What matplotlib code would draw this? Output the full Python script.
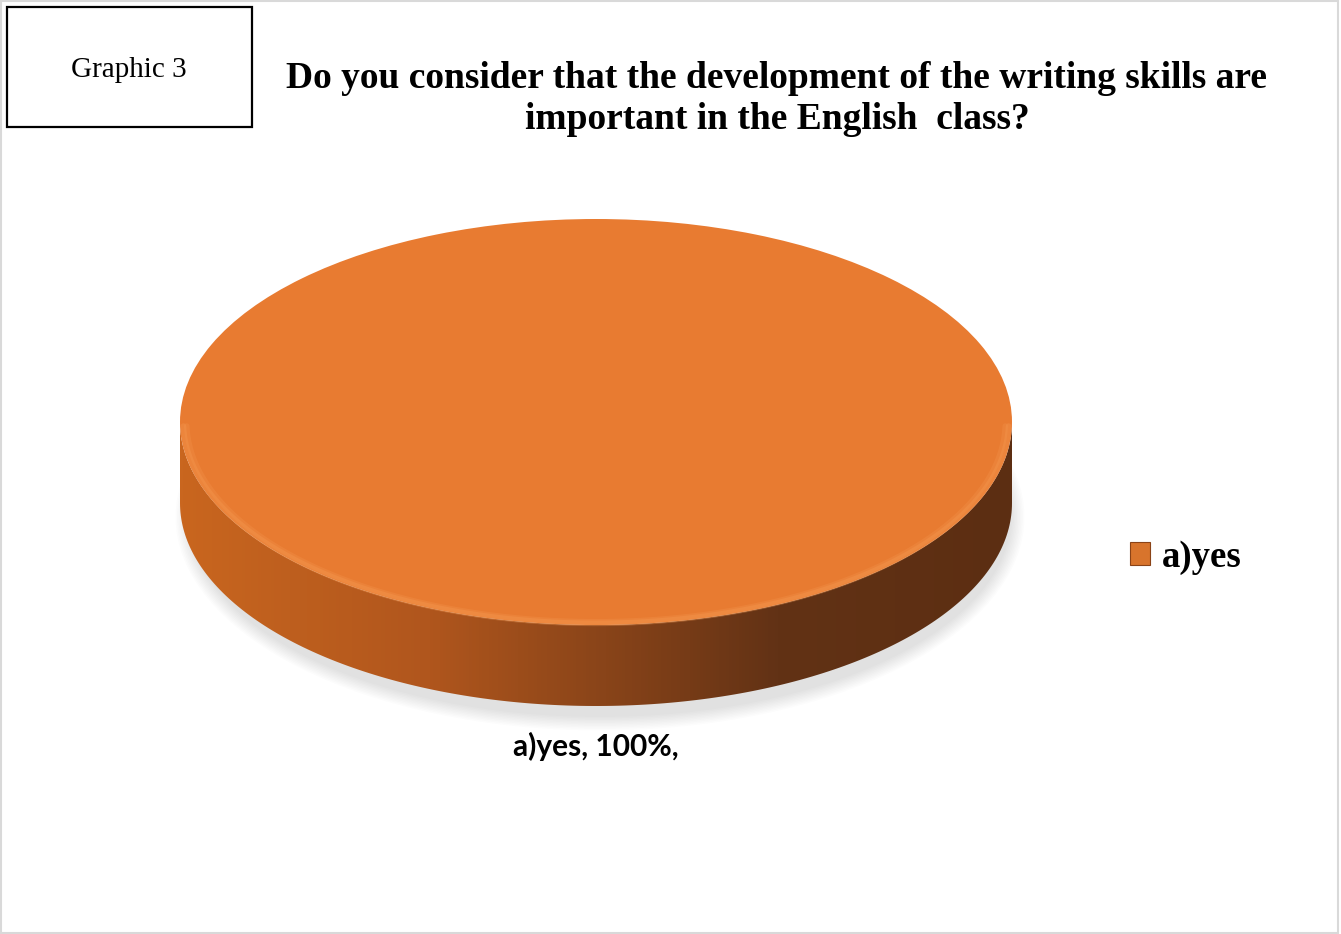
import numpy as np
import matplotlib
matplotlib.use('Agg')
import matplotlib.pyplot as plt
from matplotlib.patches import Rectangle, Ellipse, Polygon
from matplotlib.transforms import Affine2D
from matplotlib.colors import LinearSegmentedColormap

# data
labels = ['a)yes']
values = [100]
box_text = 'Graphic 3'
title = 'Do you consider that the development of the writing skills are\nimportant in the English  class?'

top_color = '#E87B31'
W, H = 1341, 934

fig = plt.figure(figsize=(W / 100, H / 100), dpi=100)
ax = fig.add_axes([0, 0, 1, 1])

# pie geometry (pixels)
cx, cy, rx, ry, depth = 596, 422, 416, 203, 81

# shadow under the disc
for i in range(10):
    ax.add_patch(Ellipse((cx + 4, cy + depth + 14), 2 * rx - 10 + i * 3, 2 * ry - 6 + i * 3,
                         facecolor='#000000', edgecolor='none', alpha=0.012, zorder=1))

# side of the cylinder with a horizontal gradient
t = np.linspace(0, np.pi, 200)
top_arc = np.column_stack([cx + rx * np.cos(t), cy + ry * np.sin(t)])
bot_arc = np.column_stack([cx + rx * np.cos(t[::-1]), cy + depth + ry * np.sin(t[::-1])])
side = Polygon(np.vstack([top_arc, bot_arc]), closed=True, facecolor='none', edgecolor='none')
ax.add_patch(side)
cmap = LinearSegmentedColormap.from_list('side', [(0, '#C9661F'), (0.3, '#B0561D'),
                                                   (0.72, '#623215'), (1, '#5C2E12')])
grad = np.linspace(0, 1, 256).reshape(1, -1)
im = ax.imshow(grad, cmap=cmap, extent=(cx - rx, cx + rx, cy + ry + depth, cy - ry),
               aspect='auto', zorder=2)
im.set_clip_path(side)

# top face
wedges, _ = ax.pie(values, colors=[top_color], radius=1, startangle=90, frame=True)
for w in wedges:
    w.set_transform(Affine2D().scale(rx, ry).translate(cx, cy) + ax.transData)
    w.set_zorder(3)
    w.set_edgecolor('none')

# bevel highlight along the front edge
tt = np.linspace(0.02, np.pi - 0.02, 200)
for s, a, lw in [(0.992, 0.35, 4), (0.984, 0.25, 4)]:
    ax.plot(cx + rx * s * np.cos(tt), cy + ry * s * np.sin(tt), color='#F59A52',
            lw=lw, alpha=a, zorder=4, solid_capstyle='round')

# data label
ax.text(cx, cy + ry + depth + 40, f'{labels[0]}, {values[0]}%,', ha='center', va='center',
        fontsize=21.5, fontweight='bold', family='Lato', color='black', zorder=5)

# legend
handle = Rectangle((0, 0), 1, 1, facecolor='#D8742C', edgecolor='#8A4317', lw=0.8)
leg = ax.legend([handle], labels, loc='center left', bbox_to_anchor=(1097 / W, 1 - 557 / H),
                bbox_transform=fig.transFigure, frameon=False, handlelength=0.55, handleheight=0.55,
                handletextpad=0.3, prop={'family': 'Liberation Serif', 'weight': 'bold', 'size': 26.5})

# title
ax.text(777, 99, title, ha='center', va='center', fontsize=27, fontweight='bold',
        family='Liberation Serif', linespacing=1.25, color='black')

# "Graphic 3" box
ax.add_patch(Rectangle((7, 7), 245, 120, facecolor='white', edgecolor='black', lw=1.6, zorder=5))
ax.text(129, 70, box_text, ha='center', va='center', fontsize=21, family='Liberation Serif', zorder=6)

ax.set_aspect('auto')
ax.set_xlim(0, W)
ax.set_ylim(H, 0)
ax.axis('off')

fig.patches.append(Rectangle((0.001, 0.001), 0.997, 0.998, transform=fig.transFigure,
                             fill=False, edgecolor='#d9d9d9', lw=1.5))

fig.savefig('out.png', dpi=100)
